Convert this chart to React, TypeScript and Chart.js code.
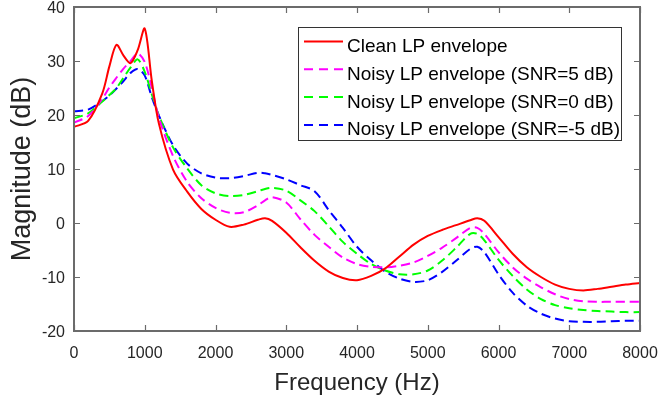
import React, { useEffect, useRef } from "react";
import { Chart, registerables } from "chart.js";

Chart.register(...registerables);

const freqs = [0, 200, 400, 500, 600, 700, 800, 900, 1000, 1100, 1200, 1400, 1600, 1800, 2000, 2200, 2400, 2600, 2700, 2800, 3000, 3200, 3400, 3600, 3800, 4000, 4200, 4400, 4600, 4800, 5000, 5200, 5400, 5600, 5700, 5800, 6000, 6200, 6400, 6600, 6800, 7000, 7200, 7400, 7600, 7800, 8000];

const clean = [17.8, 18.9, 24.0, 29.0, 33.0, 31.0, 29.6, 32.0, 36.0, 26.3, 18.4, 9.9, 5.8, 2.6, 0.6, -0.7, -0.3, 0.6, 0.9, 0.4, -1.8, -4.5, -7.0, -9.0, -10.2, -10.6, -9.8, -8.4, -6.2, -4.0, -2.4, -1.3, -0.4, 0.5, 0.9, 0.4, -2.6, -5.7, -8.2, -10.0, -11.4, -12.2, -12.5, -12.2, -11.8, -11.4, -11.1];
const snr5 = [18.6, 19.8, 23.0, 25.1, 26.9, 28.6, 30.0, 31.4, 29.8, 25.0, 19.5, 12.4, 7.6, 4.6, 2.8, 1.9, 2.0, 3.3, 4.2, 4.8, 3.8, 0.7, -2.2, -4.4, -6.4, -7.6, -8.1, -8.2, -7.9, -7.3, -6.1, -4.6, -2.8, -0.9, -0.9, -2.0, -5.4, -8.2, -10.3, -11.9, -13.2, -14.1, -14.5, -14.6, -14.6, -14.6, -14.6];
const snr0 = [19.4, 20.3, 22.5, 23.7, 25.0, 26.9, 28.8, 30.3, 28.0, 23.8, 19.9, 14.0, 10.1, 7.0, 5.5, 5.0, 5.2, 5.9, 6.3, 6.5, 6.0, 4.2, 2.2, -0.6, -3.5, -5.7, -7.6, -8.8, -9.5, -9.5, -8.8, -7.0, -4.6, -2.0, -2.0, -3.2, -6.8, -9.8, -12.3, -14.1, -15.2, -15.8, -16.1, -16.3, -16.4, -16.5, -16.5];
const snrM5 = [20.7, 21.0, 22.6, 23.6, 24.9, 26.3, 27.8, 28.5, 27.3, 23.3, 19.9, 14.4, 11.0, 9.2, 8.4, 8.3, 8.7, 9.3, 9.2, 8.9, 8.1, 7.0, 5.9, 2.4, -0.9, -4.4, -6.9, -9.0, -10.3, -10.9, -10.6, -9.1, -7.0, -4.8, -4.4, -5.4, -9.5, -12.9, -15.3, -16.8, -17.7, -18.2, -18.3, -18.3, -18.2, -18.1, -18.1];

const seriesLabels = [
  "Clean LP envelope",
  "Noisy LP envelope (SNR=5 dB)",
  "Noisy LP envelope (SNR=0 dB)",
  "Noisy LP envelope (SNR=-5 dB)",
];
const seriesValues = [clean, snr5, snr0, snrM5];
const seriesColors = ["#ff0000", "#ff00ff", "#00ff00", "#0000ff"];
const seriesDashed = [false, true, true, true];

const xTitle = "Frequency (Hz)";
const yTitle = "Magnitude (dB)";
const FONT = "'Liberation Sans', Arial, Helvetica, sans-serif";
const AXIS_COLOR = "#6b6b6b";
const TEXT_COLOR = "#262626";

const framePlugin = {
  id: "frame",
  afterDraw(chart: any) {
    const ctx = chart.ctx;
    const { left, right, top, bottom } = chart.chartArea;
    const xs = chart.scales.x;
    const ys = chart.scales.y;
    ctx.save();
    ctx.strokeStyle = AXIS_COLOR;
    ctx.lineWidth = 1.2;
    ctx.beginPath();
    xs.ticks.forEach((t: any) => {
      const px = Math.round(xs.getPixelForValue(t.value)) + 0.5;
      ctx.moveTo(px, bottom);
      ctx.lineTo(px, bottom - 6);
      ctx.moveTo(px, top);
      ctx.lineTo(px, top + 6);
    });
    ys.ticks.forEach((t: any) => {
      const py = Math.round(ys.getPixelForValue(t.value)) + 0.5;
      ctx.moveTo(left, py);
      ctx.lineTo(left + 6, py);
      ctx.moveTo(right, py);
      ctx.lineTo(right - 6, py);
    });
    ctx.stroke();
    ctx.lineWidth = 2;
    ctx.strokeRect(left, top, right - left, bottom - top);

    // legend
    const lx = 298.5, ly = 27.5, lw = 323, lh = 113;
    ctx.fillStyle = "#ffffff";
    ctx.fillRect(lx, ly, lw, lh);
    ctx.strokeStyle = "#333333";
    ctx.lineWidth = 1;
    ctx.strokeRect(lx, ly, lw, lh);
    ctx.font = `19px ${FONT}`;
    ctx.textBaseline = "alphabetic";
    ctx.textAlign = "left";
    seriesLabels.forEach((lab, i) => {
      const base = 52 + i * 27.8;
      const lineY = base - 10.5;
      ctx.strokeStyle = seriesColors[i];
      ctx.lineWidth = 2;
      ctx.setLineDash(seriesDashed[i] ? [9, 6] : []);
      ctx.beginPath();
      ctx.moveTo(304, lineY);
      ctx.lineTo(343, lineY);
      ctx.stroke();
      ctx.setLineDash([]);
      ctx.fillStyle = "#000000";
      ctx.fillText(lab, 347, base);
    });
    ctx.restore();
  },
};

export default function App() {
  const ref = useRef<HTMLCanvasElement | null>(null);
  useEffect(() => {
    document.body.style.margin = "0";
    const canvas = ref.current;
    if (!canvas) return;
    Chart.defaults.font.family = FONT;
    const chart = new Chart(canvas, {
      type: "line",
      data: {
        datasets: seriesValues.map((vals, i) => ({
          label: seriesLabels[i],
          data: freqs.map((f, j) => ({ x: f, y: vals[j] })),
          borderColor: seriesColors[i],
          backgroundColor: seriesColors[i],
          borderWidth: 2,
          borderDash: seriesDashed[i] ? [9, 5] : [],
          pointRadius: 0,
          tension: 0.3,
          fill: false,
        })),
      },
      options: {
        responsive: false,
        animation: false,
        devicePixelRatio: 1,
        layout: { padding: { left: 0, right: 19, top: 7, bottom: 0 } },
        plugins: { legend: { display: false }, tooltip: { enabled: false } },
        scales: {
          x: {
            type: "linear",
            min: 0,
            max: 8000,
            ticks: {
              stepSize: 1000,
              autoSkip: false,
              maxRotation: 0,
              padding: 13,
              color: TEXT_COLOR,
              font: { size: 16, family: FONT },
              callback: (v: any) => String(v),
            },
            grid: { display: false, drawTicks: false },
            border: { display: false },
            title: {
              display: true,
              text: xTitle,
              color: TEXT_COLOR,
              font: { size: 24, family: FONT },
              padding: { top: 0, bottom: 7 },
            },
            afterFit: (s: any) => {
              s.height = 74;
              s.paddingLeft = 0;
              s.paddingRight = 0;
            },
          },
          y: {
            type: "linear",
            min: -20,
            max: 40,
            ticks: {
              stepSize: 10,
              padding: 9,
              labelOffset: 2,
              color: TEXT_COLOR,
              font: { size: 16, family: FONT },
              callback: (v: any) => String(v),
            },
            grid: { display: false, drawTicks: false },
            border: { display: false },
            title: {
              display: true,
              text: yTitle,
              color: TEXT_COLOR,
              font: { size: 27, family: FONT },
              padding: { top: 6, bottom: 0 },
            },
            afterFit: (s: any) => {
              s.width = 74;
              s.paddingTop = 0;
              s.paddingBottom = 0;
            },
          },
        },
      },
      plugins: [framePlugin],
    });
    return () => chart.destroy();
  }, []);
  return (
    <canvas
      ref={ref}
      width={659}
      height={405}
      style={{ display: "block", width: 659, height: 405 }}
    />
  );
}
